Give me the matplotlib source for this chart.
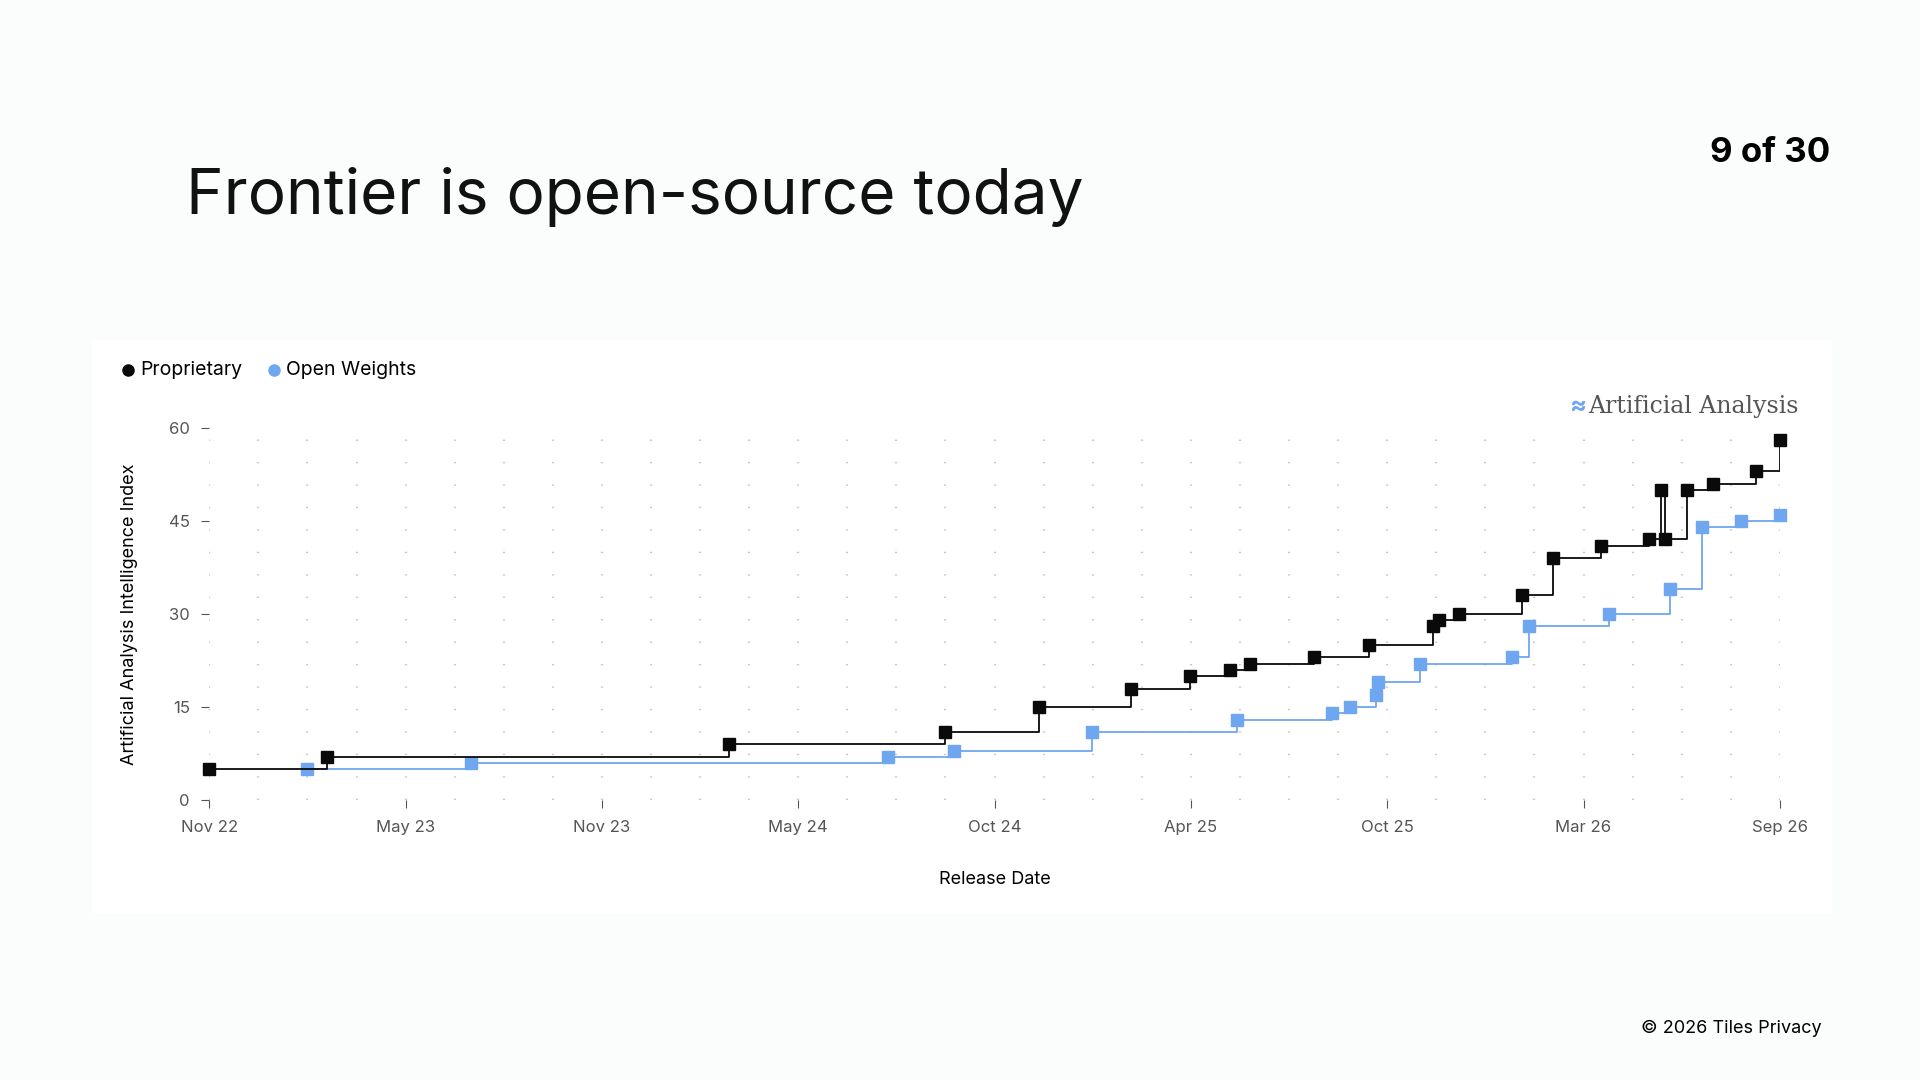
import numpy as np
import matplotlib
matplotlib.use("Agg")
import matplotlib.pyplot as plt
import matplotlib.dates as mdates
from matplotlib.patches import Rectangle
from matplotlib.lines import Line2D

plt.rcParams['font.family'] = ['Inter', 'DejaVu Sans']

# data
prop_dates = ["2022-11-20", "2023-03-05", "2024-02-26", "2024-09-06", "2024-11-29",
              "2025-02-19", "2025-04-12", "2025-05-18", "2025-06-05", "2025-08-01",
              "2025-09-19", "2025-11-15", "2025-11-20", "2025-12-08", "2026-02-02",
              "2026-03-02", "2026-04-14", "2026-05-26", "2026-06-06", "2026-06-10",
              "2026-06-29", "2026-07-22", "2026-08-30", "2026-09-20"]
prop_vals = [5, 7, 9, 11, 15, 18, 20, 21, 22, 23, 25, 28, 29, 30, 33, 39, 41, 42,
             50, 42, 50, 51, 53, 58]
open_dates = ["2023-02-15", "2023-07-11", "2024-07-17", "2024-09-14", "2025-01-15",
              "2025-05-24", "2025-08-17", "2025-09-02", "2025-09-25", "2025-09-27",
              "2025-11-03", "2026-01-24", "2026-02-08", "2026-04-21", "2026-06-14",
              "2026-07-13", "2026-08-16", "2026-09-20"]
open_vals = [5, 6, 7, 8, 11, 13, 14, 15, 17, 19, 22, 23, 28, 30, 34, 44, 45, 46]
axis_start, axis_end = "2022-11-20", "2026-09-20"
tick_labels = ["Nov 22", "May 23", "Nov 23", "May 24", "Oct 24", "Apr 25", "Oct 25",
               "Mar 26", "Sep 26"]

BLACK = "#0a0a0a"
BLUE = "#6ea6f0"

fig = plt.figure(figsize=(19.2, 10.8), dpi=100)
fig.patch.set_facecolor("#fbfcfc")
fig.patches.append(Rectangle((0.048, 0.155), 0.906, 0.53, transform=fig.transFigure,
                             facecolor="white", edgecolor="none", zorder=-10))

fig.text(0.097, 0.818, "Frontier is open-source today", fontsize=46, va="center", color="#111")
fig.text(0.953, 0.858, "9 of 30", fontsize=25, fontweight="bold", ha="right", va="center")
fig.text(0.949, 0.048, "\u00a9 2026 Tiles Privacy", fontsize=13, ha="right", va="center")

ax = fig.add_axes([0.109, 0.259, 0.818, 0.345], zorder=5)
ax.set_facecolor("white")
pd_ = mdates.datestr2num(prop_dates)
od_ = mdates.datestr2num(open_dates)
x0, x1 = mdates.datestr2num([axis_start, axis_end])
td = np.linspace(x0, x1, len(tick_labels))

ax.plot(od_, open_vals, drawstyle="steps-post", color=BLUE, lw=1.3, zorder=2)
ax.plot(od_, open_vals, "s", color=BLUE, ms=8.5, ls="none", zorder=3, clip_on=False)
ax.plot(pd_, prop_vals, drawstyle="steps-post", color=BLACK, lw=1.3, zorder=4)
ax.plot(pd_, prop_vals, "s", color=BLACK, ms=8.5, ls="none", zorder=5, clip_on=False)

ax.set_xlim(x0, x1)
ax.set_ylim(0, 60)
ax.set_xticks(td)
ax.set_xticklabels(tick_labels, fontsize=12, color="#555")
ax.set_yticks([0, 15, 30, 45, 60])
ax.tick_params(axis="y", labelsize=12, labelcolor="#555", length=6, color="#555", pad=8)
ax.tick_params(axis="x", length=6, color="#555", pad=8)
# dotted grid
minor_x = np.linspace(x0, x1, 33)
for x in minor_x:
    ax.axvline(x, color="#c8c8c8", lw=1.6, ls=(0, (0.6, 9.5)), zorder=0)
for s in ax.spines.values():
    s.set_visible(False)
ax.set_ylabel("Artificial Analysis Intelligence Index", fontsize=13, labelpad=22)
ax.set_xlabel("Release Date", fontsize=13, labelpad=26)

fig.add_artist(Line2D([0.0665], [0.657], marker="o", color=BLACK, ms=8, transform=fig.transFigure))
fig.text(0.073, 0.657, "Proprietary", fontsize=14, va="center")
fig.add_artist(Line2D([0.1425], [0.657], marker="o", color=BLUE, ms=8, transform=fig.transFigure))
fig.text(0.149, 0.657, "Open Weights", fontsize=14, va="center")
fig.text(0.937, 0.624, "Artificial Analysis", fontsize=17, family="DejaVu Serif",
         color="#555", ha="right", va="center")
fig.text(0.8215, 0.624, "\u2248", fontsize=18, color=BLUE, fontweight="bold",
         ha="center", va="center")

fig.savefig("out.png", dpi=100, facecolor=fig.get_facecolor())
